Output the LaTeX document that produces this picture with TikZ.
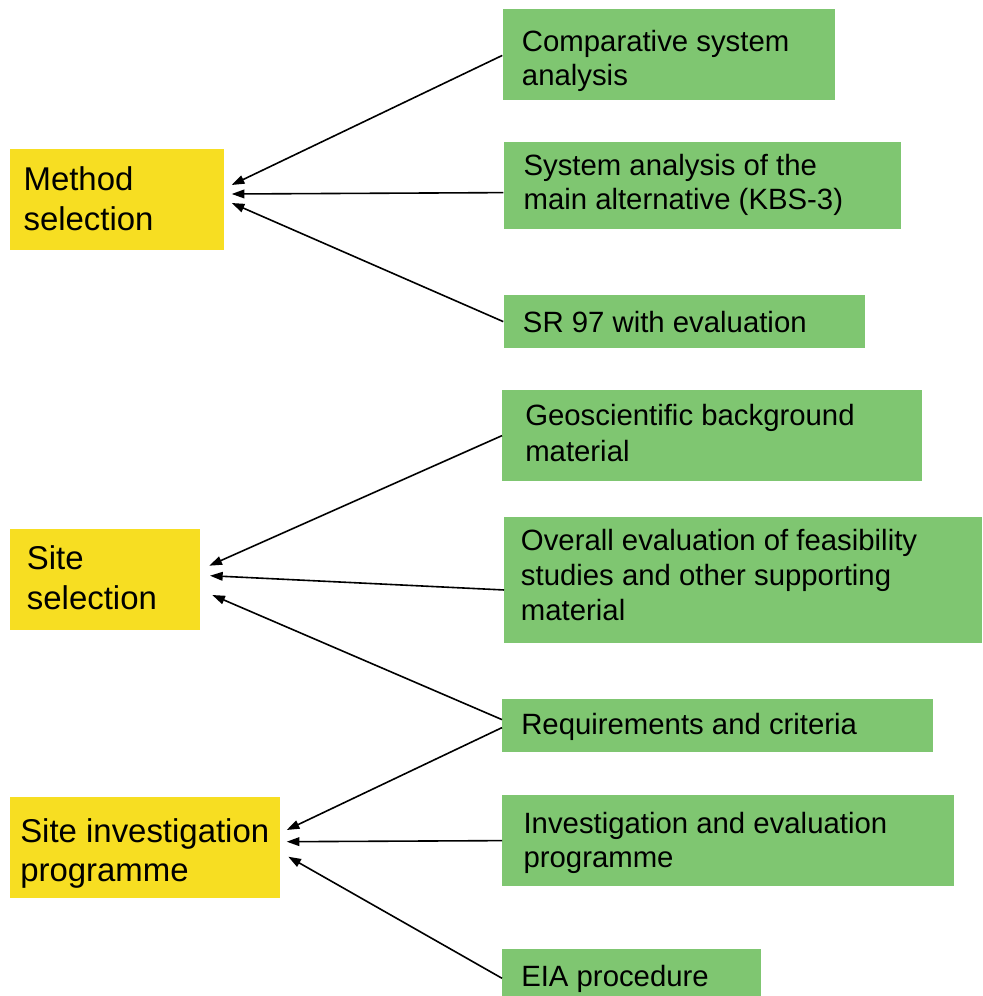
\documentclass[tikz,border=0pt]{standalone}
\usepackage{fontspec}
\setmainfont{Liberation Sans}
\usetikzlibrary{arrows.meta,calc}
\definecolor{ylw}{RGB}{247,222,34}
\definecolor{grn}{RGB}{127,198,113}
\tikzset{
  ybox/.style={fill=ylw,draw=none,inner sep=0pt,anchor=north west},
  gbox/.style={fill=grn,draw=none,inner sep=0pt,anchor=north west},
  gtxt/.style={anchor=base west,inner sep=0pt,font=\fontsize{22}{26}\selectfont},
  ytxt/.style={anchor=base west,inner sep=0pt,font=\fontsize{24.7}{30}\selectfont},
  arr/.style={line width=1.2pt,-{Triangle[length=9.5pt,width=6.5pt]}}
}
\begin{document}
\begin{tikzpicture}[x=0.75pt,y=-0.75pt]
\useasboundingbox (0,0) rectangle (982,996);
% yellow boxes
\node[ybox,minimum width=213.3*0.75pt,minimum height=100.3*0.75pt] (ms) at (10,149) {};
\node[ybox,minimum width=190*0.75pt,minimum height=100.3*0.75pt] (ss) at (10,529) {};
\node[ybox,minimum width=270*0.75pt,minimum height=101*0.75pt] (si) at (10,796.7) {};
% green boxes
\node[gbox,minimum width=332.7*0.75pt,minimum height=90.3*0.75pt] (g1) at (502.3,9) {};
\node[gbox,minimum width=397.4*0.75pt,minimum height=87.3*0.75pt] (g2) at (503.3,141.7) {};
\node[gbox,minimum width=361.7*0.75pt,minimum height=52.7*0.75pt] (g3) at (503.3,295) {};
\node[gbox,minimum width=420*0.75pt,minimum height=90.7*0.75pt] (g4) at (502,390) {};
\node[gbox,minimum width=478*0.75pt,minimum height=126*0.75pt] (g5) at (504,516.7) {};
\node[gbox,minimum width=430.7*0.75pt,minimum height=52.7*0.75pt] (g6) at (502,699) {};
\node[gbox,minimum width=452*0.75pt,minimum height=90.7*0.75pt] (g7) at (502,795) {};
\node[gbox,minimum width=258.7*0.75pt,minimum height=50*0.75pt] (g8) at (502,949) {};
% yellow texts
\node[ytxt] (msa) at (23.3,190.7) {Method};
\node[ytxt] (msb) at (23.3,230.7) {selection};
\node[ytxt] (ssa) at (26.7,569) {Site};
\node[ytxt] (ssb) at (26.7,609.3) {selection};
\node[ytxt] (sia) at (20,842.7) {Site investigation};
\node[ytxt] (sib) at (20,881.7) {programme};
% green texts
\node[gtxt] (t1a) at (521.7,51.7) {Comparative system};
\node[gtxt] (t1b) at (521.7,85) {analysis};
\node[gtxt] (t2a) at (523.3,175.7) {System analysis of the};
\node[gtxt] (t2b) at (523.3,209) {main alternative (KBS-3)};
\node[gtxt] (t3a) at (522.7,332.7) {SR 97 with evaluation};
\node[gtxt] (t4a) at (525,425.7) {Geoscientific background};
\node[gtxt] (t4b) at (525,461) {material};
\node[gtxt] (t5a) at (520.7,550) {Overall evaluation of feasibility};
\node[gtxt] (t5b) at (520.7,585) {studies and other supporting};
\node[gtxt] (t5c) at (520.7,620) {material};
\node[gtxt] (t6a) at (521,734.3) {Requirements and criteria};
\node[gtxt] (t7a) at (523.3,833.3) {Investigation and evaluation};
\node[gtxt] (t7b) at (523.3,867.7) {programme};
\node[gtxt] (t8a) at (521,986) {EIA procedure};
% arrow tips
\coordinate (m1) at (231.7,185);
\coordinate (m2) at (231.7,194);
\coordinate (m3) at (231.7,203);
\coordinate (s1) at (209.3,565.7);
\coordinate (s2) at (210,575.7);
\coordinate (s3) at (212.3,595);
\coordinate (i1) at (286.7,830);
\coordinate (i2) at (286.7,841.7);
\coordinate (i3) at (288.3,856.7);
% arrows
\draw[arr] ($(g1.west)+(0,1)$) -- (m1);
\draw[arr] ($(g2.west)+(0,7)$) -- (m2);
\draw[arr] (g3.west) -- (m3);
\draw[arr] (g4.west) -- (s1);
\draw[arr] ($(g5.west)+(0,10)$) -- (s2);
\draw[arr] ($(g6.west)+(0,-6)$) -- (s3);
\draw[arr] ($(g6.west)+(0,2)$) -- (i1);
\draw[arr] (g7.west) -- (i2);
\draw[arr] ($(g8.west)+(0,4)$) -- (i3);
\end{tikzpicture}
\end{document}
